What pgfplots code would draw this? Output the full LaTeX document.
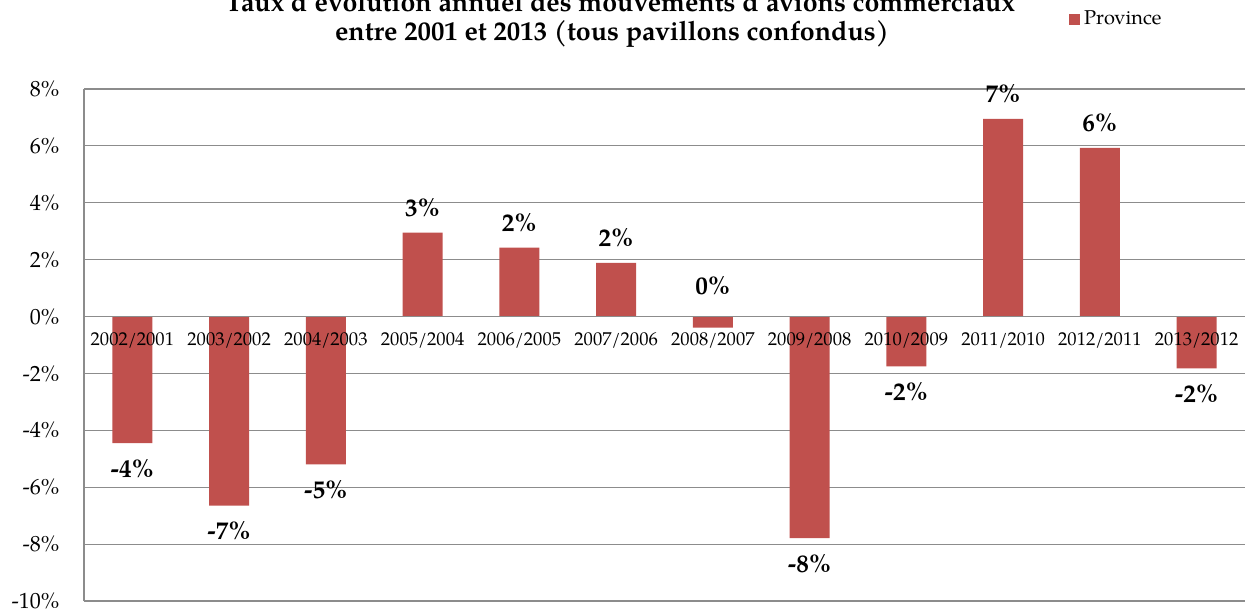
\documentclass[border=0pt]{standalone}
\usepackage{fontspec}
\setmainfont{TeX Gyre Pagella}
\usepackage{pgfplots}
\usepackage{pgfplotstable}
\pgfplotsset{compat=1.18}

\definecolor{barred}{HTML}{C0504D}
\definecolor{gridgray}{HTML}{8C8C8C}

% taux d'evolution annuel (%), lu sur le graphique
% lab = valeur arrondie affichee, ylab = point d'ancrage de l'etiquette
\pgfplotstableread{
x  y      lab  ylab
0  -4.45  -4   -4.45
1  -6.65  -7   -6.65
2  -5.20  -5   -5.20
3   2.95   3    2.95
4   2.42   2    2.42
5   1.89   2    1.89
6  -0.39   0    0.19
7  -7.79  -8   -7.79
8  -1.75  -2   -1.75
9   6.95   7    6.95
10  5.93   6    5.93
11 -1.82  -2   -1.82
}\evol

\begin{document}
\begin{tikzpicture}
\begin{axis}[
    name=ax,
    set layers,
    scale only axis,
    width=580.5pt,
    height=256pt,
    xmin=-0.5, xmax=11.5,
    ymin=-10, ymax=8,
    ybar,
    bar width=20pt,
    bar shift=0pt,
    axis x line*=middle,
    axis y line*=left,
    axis line style={gridgray, line width=0.6pt},
    ymajorgrids,
    grid style={gridgray, line width=0.6pt},
    major tick length=0pt,
    xtick={0,...,11},
    xticklabels={2002/2001,2003/2002,2004/2003,2005/2004,2006/2005,2007/2006,
                 2008/2007,2009/2008,2010/2009,2011/2010,2012/2011,2013/2012},
    ytick={-10,-8,...,8},
    yticklabel={\pgfmathprintnumber{\tick}\%},
    /pgf/number format/assume math mode=true,
    yticklabel style={font=\fontsize{11}{13}\selectfont, xshift=-8.8pt},
    xticklabel style={font=\fontsize{9.3}{11}\selectfont, yshift=-4.5pt},
    legend style={at={(0.890,1.136)}, anchor=center, draw=none, fill=none,
                  font=\fontsize{10}{12}\selectfont, inner sep=1pt},
]
\addplot[on layer=axis ticks, fill=barred, draw=none,
         legend image code/.code={\fill[barred] (0pt,-2.75pt) rectangle (5.5pt,2.75pt);}]
    table[x=x, y=y] {\evol};
\addlegendentry{Province}
% etiquettes de valeur (au-dessus si positif, en dessous si negatif)
\addplot[on layer=axis ticks, draw=none, fill=none, forget plot,
         point meta=explicit,
         nodes near coords={\pgfmathprintnumber[fixed,precision=0]{\pgfplotspointmeta}\%},
         nodes near coords align={vertical},
         every node near coord/.append style={font=\bfseries\fontsize{12.6}{14}\selectfont, inner ysep=7.9pt}]
    table[x=x, y=ylab, meta=lab] {\evol};
\end{axis}
\node[anchor=base, font=\bfseries\fontsize{13.4}{15}\selectfont]
    at ([xshift=268pt,yshift=38.5pt]ax.north west)
    {Taux d’évolution annuel des mouvements d’avions commerciaux};
\node[anchor=base, font=\bfseries\fontsize{13.4}{15}\selectfont]
    at ([xshift=264pt,yshift=24pt]ax.north west)
    {entre 2001 et 2013 (tous pavillons confondus)};
\pgfresetboundingbox
\useasboundingbox ([xshift=-42pt,yshift=-5pt]ax.south west)
    rectangle ([xshift=3pt,yshift=44.5pt]ax.north east);
\end{tikzpicture}
\end{document}
